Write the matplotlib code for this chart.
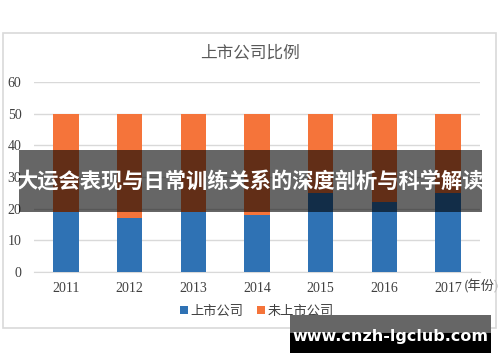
import numpy as np
import matplotlib.pyplot as plt
from matplotlib.patches import Rectangle

years = ['2011', '2012', '2013', '2014', '2015', '2016', '2017']
listed = [19, 17, 19, 18, 25, 22, 25]
unlisted = [31, 33, 31, 32, 25, 28, 25]

title = '上市公司比例'
banner = '大运会表现与日常训练关系的深度剖析与科学解读'
site = 'www.cnzh-lgclub.com'

cjk = ['Noto Sans CJK SC', 'DejaVu Sans']
serif = ['Liberation Serif', 'Noto Sans CJK SC']
blue = '#2f72b4'
orange = '#f5743a'
grey = '#d9d9d9'

fig = plt.figure(figsize=(5, 3.62), dpi=100)
W, H = 500, 362

def fx(px):
    return px / W

def fy(py):
    return 1 - py / H

# chart frame
fig.patches.append(Rectangle((fx(3), fy(328)), fx(493), 295 / H, transform=fig.transFigure,
                             fill=False, edgecolor=grey, linewidth=1.2))

ax = fig.add_axes([fx(34), fy(272), fx(446), 190 / H])
x = np.arange(len(years))
ax.bar(x, listed, width=0.4, color=blue, label='上市公司', zorder=3)
ax.bar(x, unlisted, width=0.4, bottom=listed, color=orange, label='未上市公司', zorder=3)
ax.set_xlim(-0.5, 6.5)
ax.set_ylim(0, 60)
ax.set_yticks(range(0, 61, 10))
ax.yaxis.grid(True, color=grey, linewidth=1, zorder=0)
for s in ['top', 'right', 'left']:
    ax.spines[s].set_visible(False)
ax.spines['bottom'].set_color(grey)
ax.tick_params(length=0, labelcolor='#404040')
ax.tick_params(axis='y', pad=9)
ax.tick_params(axis='x', pad=7)
ax.set_xticks(x)
ax.set_xticklabels(years, family=serif, fontsize=10)
for lab in ax.get_yticklabels():
    lab.set_family(serif)
    lab.set_fontsize(10)
ax.annotate('(年份)', xy=(6, 0), xytext=(11.5, -10.5), textcoords='offset points',
            ha='left', va='center', fontsize=9.5, color='#404040', family=cjk,
            annotation_clip=False)

fig.text(0.5, fy(53), title, ha='center', va='center', fontsize=12, color='#595959', family=cjk)

leg = ax.legend(loc='center', bbox_to_anchor=(0.5, (272 - 311) / 190), ncol=2, frameon=False,
                prop={'family': cjk, 'size': 9.5}, handlelength=0.6, handleheight=0.6,
                handletextpad=0.2, columnspacing=1.0)
for t in leg.get_texts():
    t.set_color('#404040')

# banner overlay
fig.patches.append(Rectangle((fx(19), fy(212)), fx(463), 62 / H, transform=fig.transFigure,
                             facecolor='black', alpha=0.6, edgecolor='none', zorder=10))
fig.text(fx(250), fy(182), banner, ha='center', va='center', fontsize=15.3, color='white',
         fontweight='bold', family=cjk, zorder=11)

# site watermark
fig.patches.append(Rectangle((fx(290), fy(353)), fx(201), 38 / H, transform=fig.transFigure,
                             facecolor='black', edgecolor='none', zorder=10))
fig.patches.append(Rectangle((fx(290), fy(333)), fx(201), 18 / H, transform=fig.transFigure,
                             facecolor='#666666', edgecolor='none', zorder=10))
fig.text(fx(390), fy(336), site, ha='center', va='center', fontsize=11.5, color='white',
         fontweight='bold', family=['DejaVu Sans'], zorder=11)

fig.savefig('out.png', dpi=100)
